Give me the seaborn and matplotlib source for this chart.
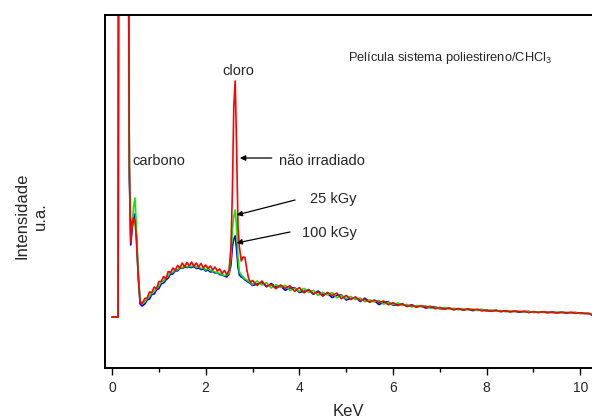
import numpy as np
import pandas as pd
import matplotlib
matplotlib.use("Agg")
import matplotlib.pyplot as plt
import seaborn as sns

# energy axis (keV)
energy = [0.00, 0.13, 0.14, 0.20, 0.30, 0.35, 0.37, 0.40, 0.43, 0.46, 0.49, 0.52, 0.56, 0.60, 0.64,
          0.70, 0.75, 0.80, 0.85, 0.90, 0.95, 1.00, 1.05, 1.10, 1.15,
          1.20, 1.25, 1.30, 1.35, 1.40, 1.45, 1.50, 1.55, 1.60, 1.65,
          1.70, 1.75, 1.80, 1.85, 1.90, 1.95, 2.00, 2.05, 2.10, 2.15,
          2.20, 2.25, 2.30, 2.35, 2.40, 2.45, 2.50,
          2.54, 2.57, 2.60, 2.63, 2.66, 2.69, 2.72, 2.76, 2.80, 2.84, 2.88, 2.92, 2.96,
          3.0, 3.1, 3.2, 3.3, 3.4, 3.5, 3.6, 3.7, 3.8, 3.9,
          4.0, 4.1, 4.2, 4.3, 4.4, 4.5, 4.6, 4.7, 4.8, 4.9,
          5.0, 5.1, 5.2, 5.3, 5.4, 5.5, 5.6, 5.7, 5.8, 5.9,
          6.0, 6.1, 6.2, 6.3, 6.4, 6.5, 6.6, 6.7, 6.8, 6.9,
          7.0, 7.1, 7.2, 7.3, 7.4, 7.5, 7.6, 7.7, 7.8, 7.9,
          8.0, 8.1, 8.2, 8.3, 8.4, 8.5, 8.6, 8.7, 8.8, 8.9,
          9.0, 9.1, 9.2, 9.3, 9.4, 9.5, 9.6, 9.7, 9.8, 9.9,
          10.0, 10.1, 10.2, 10.3]

# intensities (a.u.)
nao_irradiado = [0, 0, 4000, 4000, 4000, 4000, 1500, 750, 950, 990, 960, 780, 420, 150, 130,
                 185, 190, 250, 245, 300, 280, 355, 355, 405, 380,
                 455, 445, 490, 465, 515, 490, 540, 500, 545, 510,
                 550, 505, 540, 500, 535, 490, 520, 485, 510, 470,
                 500, 460, 480, 435, 465, 425, 470,
                 700, 1250, 2100, 2360, 1700, 900, 700, 560, 600, 595, 470, 380, 350,
                 365, 315, 360, 307, 325, 283, 320, 287, 313, 256,
                 295, 242, 275, 232, 250, 208, 246, 214, 240, 183,
                 216, 175, 200, 165, 176, 148, 170, 146, 160, 122,
                 143, 114, 131, 106, 117, 98, 114, 98, 107, 82,
                 96, 78, 91, 73, 83, 68, 82, 70, 78, 60,
                 71, 57, 68, 55, 61, 51, 60, 52, 58, 44,
                 54, 44, 52, 45, 48, 40, 48, 42, 47, 36,
                 43, 33, 36, 5]

kgy_25 = [0, 0, 4000, 4000, 4000, 4000, 1500, 820, 920, 1100, 1190, 900, 450, 160, 140,
          150, 190, 205, 250, 255, 290, 310, 355, 360, 390,
          410, 450, 445, 480, 470, 500, 490, 515, 500, 510,
          505, 515, 495, 505, 485, 490, 470, 485, 465, 460,
          450, 445, 435, 425, 415, 420, 440,
          600, 880, 1000, 1070, 900, 600, 450, 420, 400, 380, 370, 355, 345,
          325, 360, 320, 342, 290, 323, 295, 317, 265, 288,
          255, 287, 245, 267, 215, 248, 221, 244, 192, 215,
          184, 206, 174, 190, 152, 172, 150, 166, 128, 145,
          124, 140, 116, 126, 100, 116, 101, 112, 86, 98,
          84, 96, 79, 87, 72, 82, 72, 80, 64, 72,
          61, 70, 58, 64, 52, 61, 53, 59, 48, 55,
          47, 53, 45, 50, 42, 48, 43, 47, 39, 44,
          37, 41, 32, 5]

kgy_100 = [0, 0, 4000, 4000, 4000, 4000, 1400, 720, 880, 980, 1030, 820, 400, 130, 110,
           130, 170, 180, 225, 230, 270, 285, 330, 340, 370,
           390, 430, 430, 465, 460, 490, 485, 500, 495, 500,
           495, 505, 485, 490, 475, 480, 460, 470, 450, 455,
           440, 445, 425, 420, 410, 400, 430,
           520, 700, 780, 810, 680, 500, 420, 400, 390, 370, 360, 345, 335,
           315, 330, 345, 302, 335, 298, 310, 267, 290, 293,
           245, 257, 270, 227, 260, 223, 236, 194, 217, 220,
           171, 184, 197, 155, 188, 151, 165, 124, 148, 152,
           118, 123, 131, 106, 122, 103, 109, 90, 98, 102,
           82, 84, 88, 73, 84, 72, 78, 64, 72, 75,
           60, 62, 66, 54, 62, 54, 58, 48, 54, 56,
           46, 48, 51, 43, 50, 43, 47, 38, 44, 45,
           36, 38, 33, 5]

sns.set_theme(style="white")
plt.rcParams['font.family'] = ['Liberation Sans', 'DejaVu Sans']
plt.rcParams['mathtext.fontset'] = 'custom'
plt.rcParams['mathtext.rm'] = 'Liberation Sans'

fig = plt.figure(figsize=(5.92, 4.2), dpi=100)
ax = fig.add_axes([105 / 592, 52 / 420, 487 / 592, 353 / 420])

# draw order: blue, green, red on top
for vals, col in [(kgy_100, '#0000ff'), (kgy_25, '#00ee00'), (nao_irradiado, '#ff0000')]:
    sns.lineplot(x=energy, y=vals, color=col, lw=1.2, estimator=None, ax=ax)

ax.set_xlim(-0.15, 10.25)
ax.set_ylim(-510, 3020)
ax.set_yticks([])
ax.set_xticks([0, 2, 4, 6, 8, 10])
ax.set_xticks([1, 3, 5, 7, 9], minor=True)
ax.tick_params(axis='x', which='major', direction='out', length=5, width=1, color='black',
               labelsize=10, pad=4, bottom=True)
ax.tick_params(axis='x', which='minor', direction='out', length=3, width=1, color='black', bottom=True)

for side in ['left', 'bottom', 'top']:
    ax.spines[side].set_color('black')
    ax.spines[side].set_linewidth(1.4)
ax.spines['right'].set_visible(False)

ax.set_xlabel('KeV', fontsize=12, labelpad=7)
fig.text(0.053, 0.486, 'Intensidade\nu.a.', rotation=90, ha='center', va='center',
         multialignment='center', fontsize=12, linespacing=1.3)

# labels and arrows
ax.text(2.69, 2420, 'cloro', ha='center', va='baseline', fontsize=10.5)
ax.text(0.43, 1520, 'carbono', ha='left', va='baseline', fontsize=10.5)
ax.text(5.04, 2560, r'Película sistema poliestireno/CHCl$_\mathregular{3}$', ha='left',
        va='baseline', fontsize=9.3)

arrow = dict(arrowstyle='-|>', color='black', lw=0.9, mutation_scale=8, shrinkA=0, shrinkB=0)
ax.text(3.57, 1520, 'não irradiado', ha='left', va='baseline', fontsize=10.5)
ax.annotate('', xy=(2.73, 1590), xytext=(3.41, 1590), arrowprops=arrow)
ax.text(4.23, 1140, '25 kGy', ha='left', va='baseline', fontsize=10.5)
ax.annotate('', xy=(2.66, 1020), xytext=(3.91, 1170), arrowprops=arrow)
ax.text(4.06, 800, '100 kGy', ha='left', va='baseline', fontsize=10.5)
ax.annotate('', xy=(2.66, 740), xytext=(3.80, 850), arrowprops=arrow)

plt.savefig('out.png', dpi=100)
